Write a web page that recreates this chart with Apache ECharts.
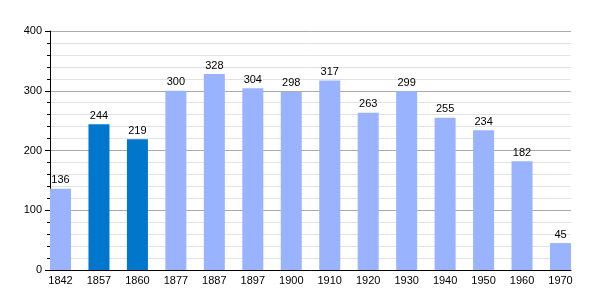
<!DOCTYPE html>
<html><head><meta charset="utf-8">
<script src="https://cdn.jsdelivr.net/npm/echarts@6/dist/echarts.min.js"></script>
<style>html,body{margin:0;padding:0;background:#fff}#c{width:600px;height:300px}</style>
</head><body><div id="c"></div>
<script>
const years = ['1842','1857','1860','1877','1887','1897','1900','1910','1920','1930','1940','1950','1960','1970'];
const population = [136,244,219,300,328,304,298,317,263,299,255,234,182,45];
const highlighted = ['1857','1860'];
const yTicks = [0,100,200,300,400];

const chart = echarts.init(document.getElementById('c'), null, {renderer:'canvas'});
const font = 'Liberation Sans, Arial, sans-serif';
chart.setOption({
  animation:false,
  grid:{left:50, right:29, top:31, bottom:30},
  xAxis:{
    type:'value', min:-0.273, max:13.273,
    axisLine:{show:true, onZero:false, lineStyle:{color:'#000', width:1}},
    axisTick:{show:false},
    splitLine:{show:false},
    axisLabel:{customValues: years.map((y,i)=>i), formatter:v=>years[Math.round(v)], color:'#000', fontSize:11, fontFamily:font, margin:5}
  },
  yAxis:{
    type:'value', min:yTicks[0], max:yTicks[yTicks.length-1], interval:100,
    axisLine:{show:true, onZero:false, lineStyle:{color:'#000', width:1}},
    axisTick:{show:true, length:5, lineStyle:{color:'#000'}},
    minorTick:{show:true, splitNumber:5, length:3, lineStyle:{color:'#000'}},
    splitLine:{show:true, lineStyle:{color:'#aaa', width:1}},
    minorSplitLine:{show:true, lineStyle:{color:'#e2e2e2', width:1}},
    axisLabel:{color:'#000', fontSize:11, fontFamily:font, margin:8}
  },
  series:[{
    type:'bar',
    barWidth:21,
    data: years.map((y,i)=>({value:[i, population[i]], itemStyle:{color: highlighted.includes(y) ? '#0077cc' : '#99b3ff'}})),
    label:{show:true, position:'top', distance:3, color:'#000', fontSize:11, fontFamily:font, formatter:p=>p.value[1]}
  }]
});
</script></body></html>
